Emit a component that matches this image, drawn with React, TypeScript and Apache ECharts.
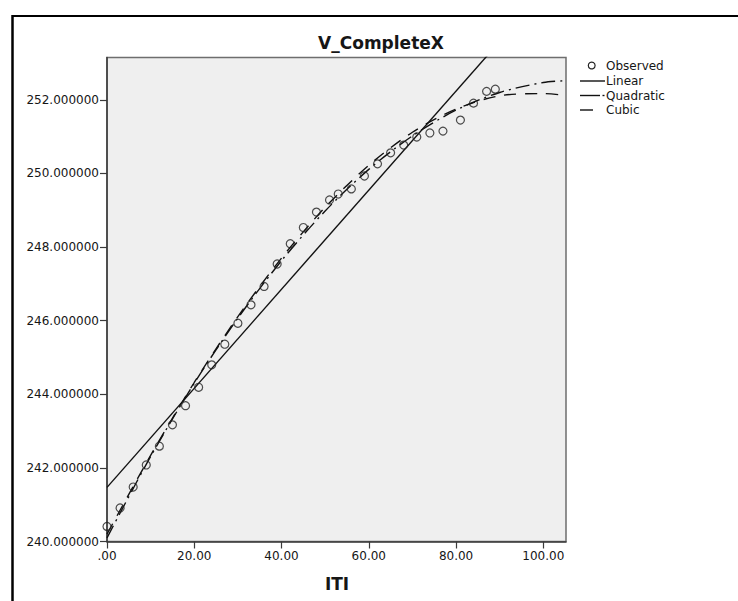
import React, { useEffect, useRef } from "react";
import * as echarts from "echarts";

// Observed points (ITI, V_CompleteX)
const obsX = [0, 3, 6, 9, 12, 15, 18, 21, 24, 27, 30, 33, 36, 39, 42, 45, 48, 51, 53, 56, 59, 62, 65, 68, 71, 74, 77, 81, 84, 87, 89];
const obsY = [240.41, 240.91, 241.48, 242.08, 242.59, 243.17, 243.69, 244.19, 244.8, 245.36, 245.93, 246.43, 246.93, 247.54, 248.09, 248.53, 248.95, 249.28, 249.44, 249.58, 249.93, 250.26, 250.56, 250.77, 250.99, 251.1, 251.15, 251.45, 251.91, 252.23, 252.29];

// Fitted curves
const linX = [0, 105.2];
const linY = [241.47, 255.63];
const fitX = [0, 10, 20, 30, 40, 50, 60, 70, 80, 90, 100, 105.2];
const quadY = [240.1, 242.31, 244.3, 246.07, 247.63, 248.98, 250.11, 251.02, 251.72, 252.2, 252.47, 252.52];
const cubicY = [240.2, 242.34, 244.32, 246.11, 247.7, 249.08, 250.22, 251.12, 251.75, 252.11, 252.17, 252.12];

// Ticks
const xTicks = [0, 20, 40, 60, 80, 100];
const yTicks = [240, 242, 244, 246, 248, 250, 252];

const title = "V_CompleteX";
const xName = "ITI";
const legendNames = ["Observed", "Linear", "Quadratic", "Cubic"];

const FONT = '"DejaVu Sans", sans-serif';
const INK = "#161616";

const zip = (xs: number[], ys: number[]) => xs.map((x, i) => [x, ys[i]]);

export default function App() {
  const ref = useRef<HTMLDivElement>(null);
  useEffect(() => {
    if (!ref.current) return;
    const chart = echarts.init(ref.current, null, { renderer: "svg" });
    const legendY = [65.5, 81, 95.5, 110];
    const option: any = {
      animation: false,
      backgroundColor: "#ffffff",
      grid: {
        left: 107,
        top: 57.5,
        width: 459,
        height: 484,
        show: true,
        backgroundColor: "#efefef",
        borderColor: "#6e6e6e",
        borderWidth: 1.5,
      },
      xAxis: {
        type: "value",
        min: 0,
        max: 105.2,
        splitLine: { show: false },
        axisLine: { show: true, onZero: false, lineStyle: { color: "#3a3a3a", width: 1.5 } },
        axisTick: { show: true, length: 7, customValues: xTicks, lineStyle: { color: "#3a3a3a", width: 1.2 } },
        axisLabel: {
          customValues: xTicks,
          margin: 8,
          fontFamily: FONT,
          fontSize: 12,
          color: INK,
          formatter: (v: number) => (v === 0 ? ".00" : v.toFixed(2)),
        },
      },
      yAxis: {
        type: "value",
        min: 240,
        max: 253.15,
        splitLine: { show: false },
        axisLine: { show: true, onZero: false, lineStyle: { color: "#3a3a3a", width: 1.5 } },
        axisTick: { show: true, length: 7, customValues: yTicks, lineStyle: { color: "#3a3a3a", width: 1.2 } },
        axisLabel: {
          customValues: yTicks,
          margin: 8,
          fontFamily: FONT,
          fontSize: 12,
          color: INK,
          formatter: (v: number) => v.toFixed(6),
        },
      },
      series: [
        {
          name: legendNames[1],
          type: "line",
          data: zip(linX, linY),
          showSymbol: false,
          clip: true,
          lineStyle: { color: "#111", width: 1.4 },
          z: 3,
        },
        {
          name: legendNames[2],
          type: "line",
          data: zip(fitX, quadY),
          smooth: 0.3,
          showSymbol: false,
          clip: true,
          lineStyle: { color: "#111", width: 1.4, type: [14, 5, 2, 5] },
          z: 3,
        },
        {
          name: legendNames[3],
          type: "line",
          data: zip(fitX, cubicY),
          smooth: 0.3,
          showSymbol: false,
          clip: true,
          lineStyle: { color: "#111", width: 1.4, type: [12, 9] },
          z: 3,
        },
        {
          name: legendNames[0],
          type: "scatter",
          data: zip(obsX, obsY),
          symbol: "circle",
          symbolSize: 8,
          itemStyle: { color: "rgba(0,0,0,0)", borderColor: "#222", borderWidth: 1.2 },
          z: 4,
        },
      ],
      graphic: {
        elements: [
          // outer frame (top and left edges visible)
          { type: "line", shape: { x1: 12.5, y1: 16, x2: 738, y2: 16 }, style: { stroke: "#000", lineWidth: 2 } },
          { type: "line", shape: { x1: 12.5, y1: 15, x2: 12.5, y2: 601 }, style: { stroke: "#000", lineWidth: 2.5 } },
          // title
          {
            type: "text",
            x: 381,
            y: 43,
            style: { text: title, font: `bold 17px ${FONT}`, fill: INK, align: "center", verticalAlign: "middle" },
          },
          // x axis name
          {
            type: "text",
            x: 337,
            y: 584,
            style: { text: xName, font: `bold 17px ${FONT}`, fill: INK, align: "center", verticalAlign: "middle" },
          },
          // legend
          { type: "circle", shape: { cx: 591.7, cy: legendY[0], r: 3.4 }, style: { fill: "none", stroke: "#222", lineWidth: 1.2 } },
          { type: "line", shape: { x1: 580, y1: legendY[1], x2: 605, y2: legendY[1] }, style: { stroke: "#111", lineWidth: 1.4 } },
          { type: "line", shape: { x1: 580, y1: legendY[2], x2: 600, y2: legendY[2] }, style: { stroke: "#111", lineWidth: 1.4 } },
          { type: "line", shape: { x1: 602.5, y1: legendY[2], x2: 604.5, y2: legendY[2] }, style: { stroke: "#111", lineWidth: 1.4 } },
          { type: "line", shape: { x1: 580, y1: legendY[3], x2: 593, y2: legendY[3] }, style: { stroke: "#111", lineWidth: 1.4 } },
          ...legendNames.map((n, i) => ({
            type: "text",
            x: 606,
            y: legendY[i],
            style: { text: n, font: `12px ${FONT}`, fill: INK, align: "left", verticalAlign: "middle" },
          })),
        ],
      },
    };
    chart.setOption(option);
    return () => chart.dispose();
  }, []);
  return (
    <div
      ref={ref}
      style={{ position: "fixed", left: 0, top: 0, width: 738, height: 601, background: "#fff" }}
    />
  );
}
